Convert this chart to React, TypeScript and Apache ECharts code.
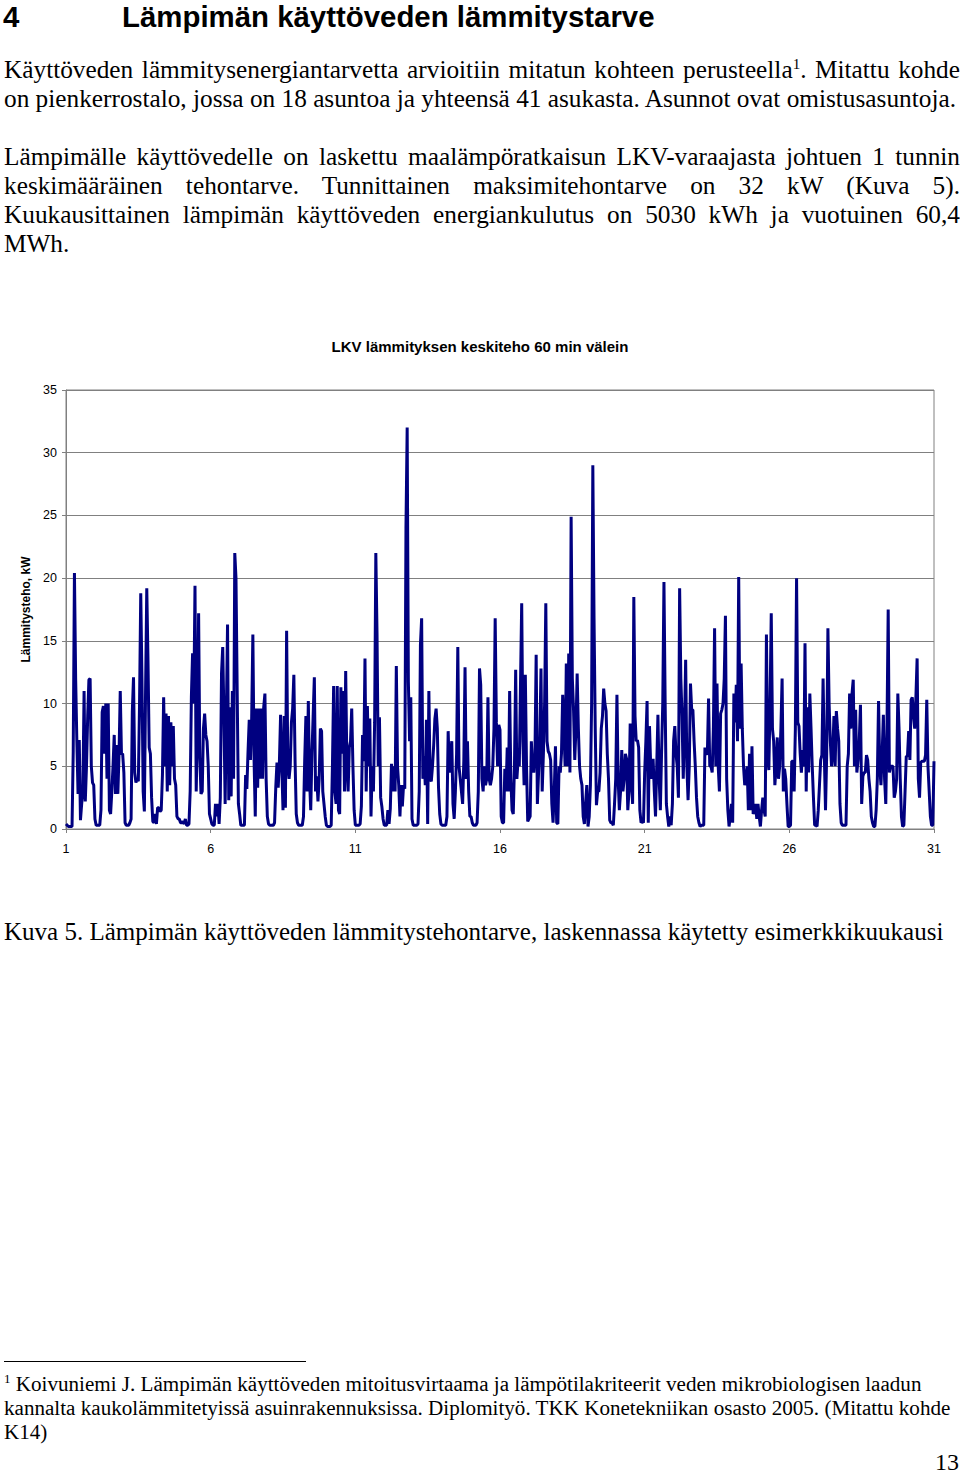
import React, { useEffect, useRef } from "react";
import * as echarts from "echarts";

// ---- Hourly mean DHW heating power (kW), one array per day ----
const d01 = [0.4, 0.3, 0.2, 0.2, 0.2, 0.2, 6.2, 20.4, 12, 7.0, 2.8, 7.1, 0.7, 2.0, 3.0, 11.0, 2.2, 5.0, 9.0, 11.9, 12.0, 5.0, 3.7, 3.5];
const d02 = [0.8, 0.3, 0.3, 0.3, 0.3, 1.5, 9.3, 9.8, 6.0, 10.0, 4.0, 10.0, 1.5, 1.2, 3.0, 5.0, 7.5, 2.8, 6.7, 2.8, 6.0, 11.0, 6.0, 6.0];
const d03 = [4.5, 0.5, 0.3, 0.3, 0.3, 0.5, 0.8, 9.3, 12.1, 4.5, 3.7, 4.0, 3.8, 10.0, 18.8, 12.0, 3.0, 1.4, 11.0, 19.2, 13.5, 6.5, 6.0, 2.5];
const d04 = [0.6, 0.5, 1.2, 0.4, 1.7, 1.7, 1.4, 1.5, 4.3, 10.5, 5.0, 9.2, 3.0, 9.0, 3.5, 8.5, 5.0, 8.2, 4.0, 3.5, 1.0, 0.8, 0.8, 0.5];
const d05 = [0.5, 0.6, 0.4, 0.8, 0.3, 0.3, 0.4, 3.0, 10.5, 14.0, 10.0, 19.4, 3.0, 8.0, 17.2, 5.7, 2.8, 3.0, 8.0, 9.2, 7.5, 7.0, 5.0, 1.2];
const d06 = [0.8, 0.4, 0.3, 0.3, 2.0, 1.0, 2.0, 0.4, 2.5, 12.4, 14.5, 9.0, 2.0, 9.0, 16.3, 2.3, 9.7, 2.6, 11.0, 4.0, 22.0, 20.0, 11.0, 2.0];
const d07 = [1.2, 0.3, 0.3, 0.3, 0.3, 4.3, 3.2, 6.2, 8.7, 5.5, 8.7, 15.5, 5.5, 1.0, 9.6, 3.3, 9.6, 4.0, 9.6, 4.0, 9.7, 10.8, 4.0, 1.0];
const d08 = [0.4, 0.3, 0.3, 0.3, 0.3, 0.5, 3.3, 5.3, 3.3, 5.3, 9.1, 5.0, 1.5, 9.0, 1.7, 15.8, 5.0, 4.0, 5.0, 8.5, 9.6, 12.3, 5.5, 1.2];
const d09 = [0.5, 0.3, 0.3, 0.3, 0.3, 1.0, 5.5, 9.0, 3.0, 10.2, 4.0, 1.5, 6.0, 9.0, 12.1, 3.0, 4.2, 2.2, 4.0, 8.0, 7.8, 3.0, 2.0, 1.0];
const d10 = [0.3, 0.2, 0.2, 0.2, 0.3, 5.0, 11.4, 3.0, 2.0, 11.4, 1.5, 1.2, 11.3, 6.0, 11.0, 3.0, 12.6, 5.0, 3.0, 6.5, 7.0, 9.6, 5.0, 1.5];
const d11 = [0.3, 0.3, 0.3, 0.3, 0.4, 1.8, 7.5, 5.4, 13.6, 3.0, 9.8, 5.0, 8.8, 1.0, 5.0, 3.0, 8.5, 22.0, 15.5, 5.0, 8.9, 2.5, 1.8, 0.8];
const d12 = [0.3, 0.3, 0.3, 1.5, 0.4, 1.6, 5.2, 3.0, 5.0, 3.0, 13.0, 5.0, 3.5, 1.0, 3.5, 1.8, 3.5, 3.2, 24.0, 32.0, 11.7, 7.0, 10.5, 0.8];
const d13 = [0.3, 0.3, 0.3, 0.3, 0.4, 3.0, 14.7, 16.8, 4.0, 5.8, 3.5, 8.7, 0.4, 11.0, 4.0, 3.8, 5.0, 6.7, 8.8, 9.6, 8.0, 3.3, 1.2, 0.4];
const d14 = [0.3, 0.3, 0.3, 0.3, 1.0, 7.8, 4.5, 5.8, 7.0, 2.0, 0.8, 3.0, 6.0, 14.5, 5.0, 4.0, 3.0, 2.0, 5.5, 12.9, 4.0, 7.0, 3.0, 1.0];
const d15 = [1.0, 0.5, 0.3, 0.3, 0.3, 0.5, 3.0, 12.8, 11.5, 4.0, 3.0, 5.0, 3.5, 4.0, 10.5, 4.0, 3.5, 4.0, 5.0, 8.0, 16.8, 8.5, 5.0, 8.3];
const d16 = [7.9, 1.0, 0.5, 0.5, 4.8, 3.0, 6.5, 3.0, 11.0, 4.0, 1.5, 1.2, 5.0, 12.7, 4.0, 5.5, 5.0, 11.5, 18.0, 7.0, 3.5, 12.3, 5.0, 0.6];
const d17 = [0.8, 1.0, 7.0, 5.0, 4.5, 6.0, 13.9, 2.0, 4.5, 7.0, 12.8, 3.0, 6.0, 10.0, 18.0, 7.0, 6.2, 6.0, 5.5, 2.0, 0.5, 3.0, 6.6, 0.5];
const d18 = [0.4, 5.0, 4.5, 6.0, 10.7, 8.0, 5.0, 13.2, 5.0, 14.0, 4.5, 24.9, 12.0, 9.5, 5.5, 8.0, 12.4, 8.0, 5.0, 4.0, 3.5, 1.0, 0.4, 2.0];
const d19 = [3.5, 0.2, 1.0, 3.5, 10.0, 29.0, 16.8, 8.0, 1.9, 3.0, 3.0, 4.5, 8.0, 9.0, 11.2, 10.0, 9.4, 6.0, 4.0, 0.7, 0.5, 0.5, 0.3, 2.0];
const d20 = [4.0, 10.7, 4.0, 1.5, 3.0, 6.3, 3.0, 4.0, 6.0, 5.6, 1.5, 3.0, 8.4, 4.0, 2.0, 18.5, 9.0, 7.0, 7.1, 6.5, 1.5, 0.5, 0.6, 0.5];
const d21 = [4.5, 7.0, 10.2, 0.5, 8.2, 5.0, 4.0, 5.6, 3.0, 1.0, 5.0, 9.1, 4.0, 1.5, 6.0, 10.0, 19.7, 10.0, 2.0, 1.0, 0.2, 1.0, 0.3, 2.0];
const d22 = [7.0, 8.2, 6.0, 5.0, 2.5, 19.2, 12.0, 9.0, 4.0, 8.0, 13.5, 5.0, 2.3, 5.0, 11.6, 9.5, 9.5, 7.0, 5.0, 2.5, 1.0, 0.5, 0.2, 0.3];
const d23 = [0.3, 0.3, 6.5, 6.0, 6.0, 10.4, 5.0, 5.0, 4.5, 8.0, 16.0, 5.0, 11.6, 5.0, 3.0, 9.2, 9.5, 10.0, 12.0, 17.0, 4.0, 1.5, 0.2, 1.0];
const d24 = [2.0, 0.5, 10.8, 8.5, 11.5, 7.0, 20.1, 8.0, 13.2, 8.0, 5.0, 3.5, 4.0, 5.0, 1.5, 6.0, 1.5, 6.6, 1.2, 1.5, 2.0, 0.8, 2.0, 1.0];
const d25 = [0.2, 1.5, 2.5, 1.5, 1.0, 15.5, 6.0, 4.7, 10.0, 17.2, 8.0, 7.0, 3.5, 5.0, 7.3, 4.0, 5.0, 8.0, 12.0, 3.0, 4.8, 4.0, 2.0, 0.2];
const d26 = [0.2, 0.3, 5.4, 5.4, 3.0, 8.0, 20.0, 8.5, 8.2, 6.0, 4.5, 6.3, 5.0, 14.8, 3.0, 9.7, 4.5, 10.8, 8.0, 5.0, 2.5, 0.3, 0.3, 0.2];
const d27 = [1.5, 3.5, 5.5, 5.9, 12.0, 6.0, 1.5, 6.0, 16.0, 10.0, 7.0, 5.0, 6.0, 9.0, 5.0, 9.4, 8.0, 7.0, 2.0, 0.5, 0.3, 0.3, 0.3, 0.3];
const d28 = [5.0, 6.0, 10.8, 8.0, 10.8, 11.9, 5.0, 9.5, 4.5, 5.5, 7.0, 9.9, 2.0, 4.2, 4.5, 4.5, 5.9, 5.5, 4.0, 3.0, 1.0, 0.5, 0.2, 0.2];
const d29 = [1.5, 4.0, 10.2, 5.0, 3.5, 6.0, 9.1, 4.0, 2.0, 8.0, 17.5, 4.5, 5.0, 5.0, 5.0, 2.5, 3.0, 4.0, 10.8, 8.0, 4.0, 1.0, 0.2, 0.3];
const d30 = [3.0, 5.8, 5.8, 7.8, 5.5, 10.3, 10.5, 9.0, 8.0, 10.5, 13.6, 4.0, 2.5, 5.3, 5.4, 5.4, 5.4, 5.9, 10.3, 5.0, 3.0, 1.0, 0.3, 0.3];
const d31 = [5.4]; // first hour of day 31

const days = [d01, d02, d03, d04, d05, d06, d07, d08, d09, d10, d11, d12, d13, d14, d15, d16, d17, d18, d19, d20, d21, d22, d23, d24, d25, d26, d27, d28, d29, d30, d31];

// ---- axis settings ----
const xMin = 1;
const xMax = 31;
const xStep = 5;
const yMin = 0;
const yMax = 35;
const yStep = 5;

// ---- texts ----
const chartTitle = "LKV lämmityksen keskiteho 60 min välein";
const yAxisName = "Lämmitysteho, kW";
const headingNumber = "4";
const headingText = "Lämpimän käyttöveden lämmitystarve";
const para1Line1a = "Käyttöveden lämmitysenergiantarvetta arvioitiin mitatun kohteen perusteella";
const para1Line1b = ". Mitattu kohde";
const para1Line2 = "on pienkerrostalo, jossa on 18 asuntoa ja yhteensä 41 asukasta. Asunnot ovat omistusasuntoja.";
const para2Lines = [
  "Lämpimälle käyttövedelle on laskettu maalämpöratkaisun LKV-varaajasta johtuen 1 tunnin",
  "keskimääräinen tehontarve. Tunnittainen maksimitehontarve on 32 kW (Kuva 5).",
  "Kuukausittainen lämpimän käyttöveden energiankulutus on 5030 kWh ja vuotuinen 60,4",
];
const para2Last = "MWh.";
const caption = "Kuva 5. Lämpimän käyttöveden lämmitystehontarve, laskennassa käytetty esimerkkikuukausi";
const footLine1 = "Koivuniemi J. Lämpimän käyttöveden mitoitusvirtaama ja lämpötilakriteerit veden mikrobiologisen laadun";
const footLine2 = "kannalta kaukolämmitetyissä asuinrakennuksissa. Diplomityö. TKK Konetekniikan osasto 2005. (Mitattu kohde";
const footLine3 = "K14)";
const pageNumber = "13";

const serif = '"Liberation Serif", "Times New Roman", serif';
const sans = '"Liberation Sans", Arial, sans-serif';

function Chart() {
  const ref = useRef<HTMLDivElement>(null);
  useEffect(() => {
    if (!ref.current) return;
    const chart = echarts.init(ref.current, undefined, { renderer: "svg" });
    const values: number[] = ([] as number[]).concat(...days);
    const data = values.map((v, i) => [xMin + i / 24, v]);
    chart.setOption({
      animation: false,
      title: {
        text: chartTitle,
        left: "center",
        top: 14,
        textStyle: { fontFamily: sans, fontSize: 15, fontWeight: "bold", color: "#000" },
      },
      grid: {
        left: 66,
        top: 70,
        width: 868,
        height: 439,
        show: true,
        borderColor: "#808080",
        borderWidth: 1,
        backgroundColor: "transparent",
      },
      xAxis: {
        type: "value",
        min: xMin,
        max: xMax,
        interval: xStep,
        axisLine: { show: true, lineStyle: { color: "#808080", width: 1 } },
        axisTick: { show: true, length: 4, lineStyle: { color: "#808080" } },
        axisLabel: { fontFamily: sans, fontSize: 12.5, color: "#000", margin: 13 },
        splitLine: { show: false },
      },
      yAxis: {
        type: "value",
        min: yMin,
        max: yMax,
        interval: yStep,
        name: yAxisName,
        nameLocation: "middle",
        nameGap: 26,
        nameTextStyle: { fontFamily: sans, fontSize: 12, fontWeight: "bold", color: "#000" },
        axisLine: { show: true, lineStyle: { color: "#808080", width: 1 } },
        axisTick: { show: true, length: 4, lineStyle: { color: "#808080" } },
        axisLabel: { fontFamily: sans, fontSize: 12.5, color: "#000", margin: 9 },
        splitLine: { show: true, lineStyle: { color: "#808080", width: 1 } },
      },
      series: [
        {
          type: "line",
          data,
          symbol: "none",
          showSymbol: false,
          silent: true,
          lineStyle: { color: "#000080", width: 3 },
        },
      ],
    });
    return () => chart.dispose();
  }, []);
  return <div ref={ref} style={{ position: "absolute", left: 0, top: 320, width: 960, height: 560 }} />;
}

const bodyText: React.CSSProperties = {
  position: "absolute",
  left: 4,
  width: 956,
  fontFamily: serif,
  fontSize: 25.3,
  lineHeight: "29px",
  color: "#000",
  margin: 0,
};

const justified: React.CSSProperties = {
  ...bodyText,
  textAlign: "justify",
  textAlignLast: "justify" as any,
};

const footText: React.CSSProperties = {
  position: "absolute",
  left: 4,
  fontFamily: serif,
  fontSize: 21.1,
  lineHeight: "24px",
  whiteSpace: "nowrap",
  color: "#000",
};

const headingStyle: React.CSSProperties = {
  position: "absolute",
  top: 2,
  fontFamily: sans,
  fontWeight: "bold",
  fontSize: 29.4,
  lineHeight: "29px",
  whiteSpace: "nowrap",
  color: "#000",
};

export default function App() {
  return (
    <div style={{ position: "absolute", left: 0, top: 0, width: 960, height: 1474, background: "#fff", overflow: "hidden" }}>
      <div style={{ ...headingStyle, left: 3 }}>{headingNumber}</div>
      <div style={{ ...headingStyle, left: 122 }}>{headingText}</div>

      <div style={{ ...justified, top: 55 }}>
        {para1Line1a}
        <sup style={{ fontSize: 15, lineHeight: 0 }}>1</sup>
        {para1Line1b}
      </div>
      <div style={{ ...bodyText, top: 84, whiteSpace: "nowrap" }}>{para1Line2}</div>

      {para2Lines.map((line, i) => (
        <div key={i} style={{ ...justified, top: 142 + i * 29 }}>
          {line}
        </div>
      ))}
      <div style={{ ...bodyText, top: 229 }}>{para2Last}</div>

      <Chart />

      <div style={{ ...bodyText, top: 917, fontSize: 25, whiteSpace: "nowrap" }}>{caption}</div>

      <div style={{ position: "absolute", left: 4, top: 1361, width: 302, height: 1, background: "#000" }} />
      <div style={{ ...footText, top: 1372 }}>
        <sup style={{ fontSize: 13, lineHeight: 0 }}>1</sup> {footLine1}
      </div>
      <div style={{ ...footText, top: 1396 }}>{footLine2}</div>
      <div style={{ ...footText, top: 1420 }}>{footLine3}</div>
      <div style={{ position: "absolute", right: 1, top: 1450, fontFamily: serif, fontSize: 24, lineHeight: "24px" }}>
        {pageNumber}
      </div>
    </div>
  );
}
